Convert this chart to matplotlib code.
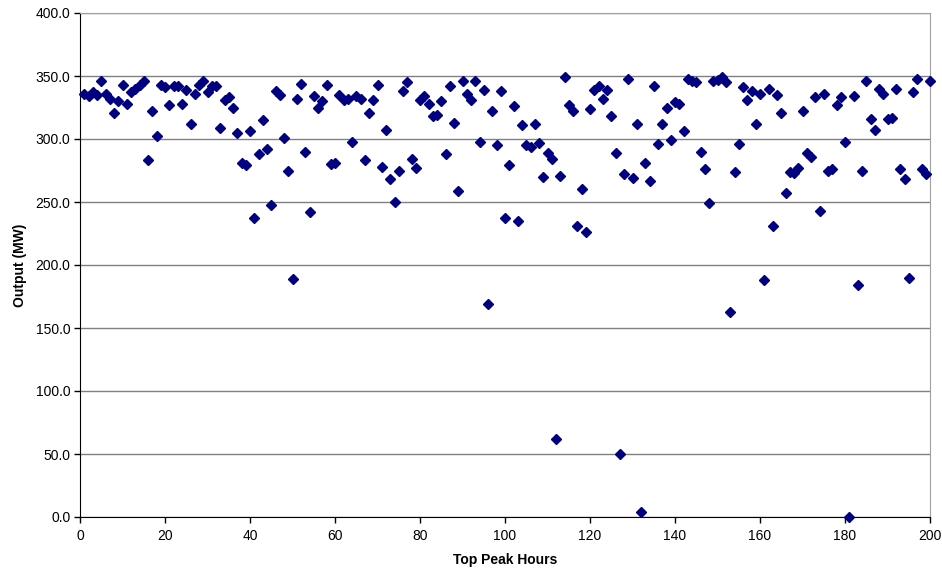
import matplotlib
matplotlib.use("Agg")
import matplotlib.pyplot as plt
from matplotlib.ticker import FuncFormatter, MultipleLocator

hours = list(range(1, 201))
output_mw = [
    336, 334, 337, 335, 346, 336, 332, 321, 330, 343,
    328, 337, 340, 343, 346, 283, 322, 302, 343, 341,
    327, 342, 342, 328, 339, 312, 336, 343, 346, 337,
    342, 342, 309, 331, 333, 325, 305, 281, 279, 306,
    237, 288, 315, 292, 248, 338, 335, 301, 275, 189,
    332, 344, 290, 242, 334, 325, 330, 343, 280, 281,
    335, 331, 332, 298, 334, 332, 283, 321, 331, 343,
    278, 307, 268, 250, 275, 338, 345, 284, 277, 331,
    334, 328, 318, 319, 330, 288, 342, 313, 259, 346,
    336, 331, 346, 298, 339, 169, 322, 295, 338, 237,
    279, 326, 235, 311, 295, 294, 312, 297, 270, 289,
    284, 62, 271, 349, 327, 322, 231, 260, 226, 324,
    339, 342, 332, 339, 318, 289, 50, 272, 348, 269,
    312, 4, 281, 267, 342, 296, 312, 325, 299, 329,
    328, 306, 348, 346, 345, 290, 276, 249, 346, 347,
    349, 345, 163, 274, 296, 341, 331, 338, 312, 336,
    188, 340, 231, 335, 321, 257, 274, 273, 277, 322,
    289, 286, 333, 243, 336, 275, 276, 327, 333, 298,
    0, 334, 184, 275, 346, 316, 307, 340, 336, 316,
    317, 340, 276, 268, 190, 337, 348, 276, 272, 346,
]

x_label = "Top Peak Hours"
y_label = "Output (MW)"

plt.rcParams['font.family'] = ['Liberation Sans', 'DejaVu Sans']

fig = plt.figure(figsize=(9.42, 5.71), dpi=100)
ax = fig.add_axes([80/942, 1-517/571, 850/942, 504/571])

ax.plot(hours, output_mw, linestyle='none', marker='D', markersize=5.5,
        color='#000080', markeredgecolor='#000080', clip_on=False, zorder=3)

ax.set_xlim(0, 200)
ax.set_ylim(0, 400)
ax.xaxis.set_major_locator(MultipleLocator(20))
ax.yaxis.set_major_locator(MultipleLocator(50))
ax.yaxis.set_major_formatter(FuncFormatter(lambda v, p: f"{v:.1f}"))

ax.grid(axis='y', color='#808080', linewidth=1)
ax.set_axisbelow(True)

for s in ['top', 'right']:
    ax.spines[s].set_color('#a0a0a0')
for s in ['left', 'bottom']:
    ax.spines[s].set_color('#000000')

ax.tick_params(axis='both', direction='out', length=4, width=1, labelsize=10,
               colors='black')
ax.tick_params(axis='y', pad=3)
ax.tick_params(axis='x', pad=5)

ax.set_xlabel(x_label, fontsize=10, fontweight='bold', labelpad=7)
ax.set_ylabel(y_label, fontsize=10, fontweight='bold', labelpad=6)

fig.savefig("out.png", dpi=100)
